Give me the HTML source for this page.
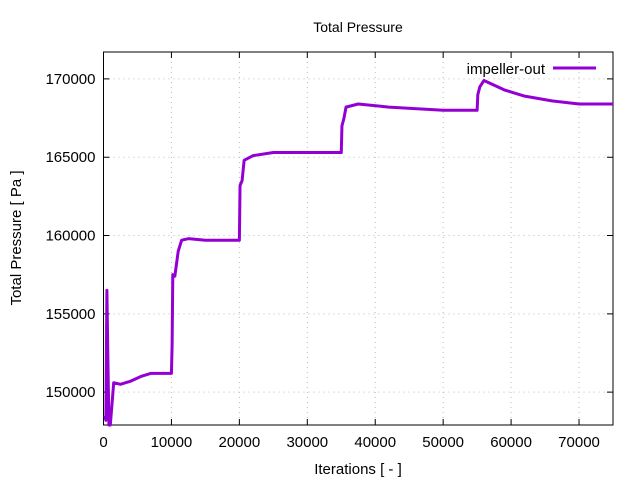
<!DOCTYPE html>
<html><head><meta charset="utf-8"><style>
body{margin:0;background:#fff;}
svg{font-family:"Liberation Sans",sans-serif;}
</style></head><body>
<svg id="c" width="640" height="480">
<text x="358" y="32" font-size="14" text-anchor="middle">Total Pressure</text>
<text transform="translate(21,238) rotate(-90)" font-size="15" text-anchor="middle">Total Pressure [ Pa ]</text>
<text x="358" y="474" font-size="15" text-anchor="middle">Iterations [ - ]</text>
<g id="grid"></g><g id="ticks"></g>
<rect x="103.5" y="52" width="509.5" height="373" fill="none" stroke="#000" stroke-width="1"/>
<polyline id="line" fill="none" stroke="#9400d3" stroke-width="3" stroke-linejoin="round"/>
<g>
<text x="545" y="74" font-size="15" text-anchor="end">impeller-out</text>
<line x1="553" y1="68" x2="596" y2="68" stroke="#9400d3" stroke-width="3"/>
</g>
</svg>
<script>
const xTicks=[0,10000,20000,30000,40000,50000,60000,70000];
const yTicks=[150000,155000,160000,165000,170000];
const iters=[200,350,500,650,800,1000,1300,1500,2500,4000,5500,7000,10000,10100,10200,10500,11000,11500,12500,15000,20000,20100,20400,20700,22000,25000,35000,35100,35400,35700,37500,42000,50000,55000,55100,55400,56000,57000,59000,62000,66000,70000,75000];
const pressure=[148500,148200,156500,152000,147900,147900,149500,150600,150500,150700,151000,151200,151200,153000,157500,157400,159000,159700,159800,159700,159700,163200,163500,164800,165100,165300,165300,167000,167500,168200,168400,168200,168000,168000,169000,169500,169900,169700,169300,168900,168600,168400,168400];
const X0=103.5,X1=613,Y0=425,Y1=52,xmin=0,xmax=75000,ymin=147900,ymax=171720;
const sx=v=>X0+(v-xmin)/(xmax-xmin)*(X1-X0);
const sy=v=>Y0-(v-ymin)/(ymax-ymin)*(Y0-Y1);
const NS="http://www.w3.org/2000/svg";
const grid=document.getElementById('grid'),ticks=document.getElementById('ticks');
function mk(p,tag,a){const e=document.createElementNS(NS,tag);for(const k in a)e.setAttribute(k,a[k]);p.appendChild(e);return e;}
xTicks.forEach(t=>{const x=sx(t);
 const g=mk(grid,'line',{x1:x,x2:x,y1:Y1,y2:Y0,stroke:'#bbb','stroke-dasharray':'1,4'});
 
 
 const tk=mk(ticks,'path',{d:`M${x},${Y0}v-6M${x},${Y1}v6`,stroke:'#000'});
 
 
 const l=mk(ticks,'text',{x:x,y:Y0+22,'font-size':'15','text-anchor':'middle'});l.textContent=t;
 
 });
yTicks.forEach(t=>{const y=sy(t);
 const g=mk(grid,'line',{x1:X0,x2:X1,y1:y,y2:y,stroke:'#bbb','stroke-dasharray':'1,4'});
 
 
 const tk=mk(ticks,'path',{d:`M${X0},${y}h6M${X1},${y}h-6`,stroke:'#000'});
 
 
 const l=mk(ticks,'text',{x:X0-8,y:y+5,'font-size':'15','text-anchor':'end'});l.textContent=t;
 
 });
document.getElementById('line').setAttribute('points',iters.map((v,i)=>sx(v)+','+sy(pressure[i])).join(' '));
</script>
</body></html>
